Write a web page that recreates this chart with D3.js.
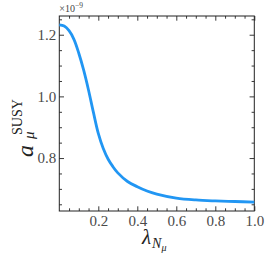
<!DOCTYPE html>
<html>
<head>
<meta charset="utf-8">
<script src="https://cdn.jsdelivr.net/npm/d3@7"></script>
<style>
  body { margin: 0; background: #fff; }
  svg { display: block; }
</style>
</head>
<body>
<script>
// Data
const lambdaVals = [0, 0.025, 0.05, 0.075, 0.1, 0.125, 0.15, 0.175, 0.2, 0.225, 0.25, 0.275, 0.3, 0.35, 0.4, 0.45, 0.5, 0.6, 0.7, 0.8, 0.9, 1.0];
const aMuVals = [1.232, 1.228, 1.213, 1.185, 1.14, 1.085, 1.02, 0.948, 0.880, 0.832, 0.797, 0.772, 0.752, 0.724, 0.707, 0.693, 0.683, 0.670, 0.664, 0.661, 0.659, 0.657];
const xMajorTicks = [0.2, 0.4, 0.6, 0.8, 1.0];
const yMajorTicks = [0.8, 1.0, 1.2];

const canvasWidth = 271;
const canvasHeight = 271;
const margins = { top: 16, right: 16.7, bottom: 60, left: 59.3 };
const plotWidth = canvasWidth - margins.left - margins.right;
const plotHeight = canvasHeight - margins.top - margins.bottom;

const serif = '"Liberation Serif", "DejaVu Serif", serif';

const svg = d3.select('body').append('svg')
    .attr('width', canvasWidth)
    .attr('height', canvasHeight);

const g = svg.append('g')
    .attr('transform', `translate(${margins.left},${margins.top})`);

const data = lambdaVals.map((x, i) => ({ x: x, y: aMuVals[i] }));

// matplotlib style 5% margins on y
const yMin = d3.min(aMuVals), yMax = d3.max(aMuVals);
const pad = (yMax - yMin) * 0.05;

const xScale = d3.scaleLinear().domain([0, 1]).range([0, plotWidth]);
const yScale = d3.scaleLinear().domain([yMin - pad, yMax + pad]).range([plotHeight, 0]);

const xMinor = d3.range(0.05, 1.0, 0.05).filter(v => Math.abs(v * 5 - Math.round(v * 5)) > 1e-6);
const yMinor = d3.range(0.65, 1.26, 0.05).filter(v => Math.abs(v * 5 - Math.round(v * 5)) > 1e-6);

const axisColor = '#222';
const fmt = d3.format('.1f');

function styleAxis(sel) {
    sel.attr('font-family', serif);
    sel.select('.domain').remove();
    sel.selectAll('line').attr('stroke', axisColor).attr('stroke-width', 0.9);
    sel.selectAll('text').attr('fill', '#4a4a4a').attr('font-family', serif).attr('font-size', 15);
}

// bottom
g.append('g').attr('transform', `translate(0,${plotHeight})`)
    .call(d3.axisBottom(xScale).tickValues(xMajorTicks).tickFormat(fmt).tickSize(-4.7).tickPadding(4))
    .call(styleAxis);
g.append('g').attr('transform', `translate(0,${plotHeight})`)
    .call(d3.axisBottom(xScale).tickValues(xMinor).tickFormat('').tickSize(-2.7))
    .call(styleAxis);
// top
g.append('g')
    .call(d3.axisTop(xScale).tickValues(xMajorTicks).tickFormat('').tickSize(-4.7))
    .call(styleAxis);
g.append('g')
    .call(d3.axisTop(xScale).tickValues(xMinor).tickFormat('').tickSize(-2.7))
    .call(styleAxis);
// left
g.append('g')
    .call(d3.axisLeft(yScale).tickValues(yMajorTicks).tickFormat(fmt).tickSize(-4.7).tickPadding(3))
    .call(styleAxis);
g.append('g')
    .call(d3.axisLeft(yScale).tickValues(yMinor).tickFormat('').tickSize(-2.7))
    .call(styleAxis);
// right
g.append('g').attr('transform', `translate(${plotWidth},0)`)
    .call(d3.axisRight(yScale).tickValues(yMajorTicks).tickFormat('').tickSize(-4.7))
    .call(styleAxis);
g.append('g').attr('transform', `translate(${plotWidth},0)`)
    .call(d3.axisRight(yScale).tickValues(yMinor).tickFormat('').tickSize(-2.7))
    .call(styleAxis);

// frame
g.append('rect')
    .attr('width', plotWidth).attr('height', plotHeight)
    .attr('fill', 'none').attr('stroke', axisColor).attr('stroke-width', 1);

// curve
const line = d3.line()
    .x(d => xScale(d.x))
    .y(d => yScale(d.y))
    .curve(d3.curveCatmullRom);

g.append('path')
    .datum(data)
    .attr('fill', 'none')
    .attr('stroke', '#2196f3')
    .attr('stroke-width', 2.8)
    .attr('d', line);

// offset text
const off = svg.append('text')
    .attr('x', margins.left)
    .attr('y', margins.top - 4)
    .attr('font-family', serif)
    .attr('font-size', 10)
    .attr('fill', '#444');
off.append('tspan').text('×10');
off.append('tspan').attr('dy', -4).attr('font-size', 7.5).text('−9');

// x label
const xl = svg.append('text')
    .attr('x', 142)
    .attr('y', 244)
    .attr('font-family', serif)
    .attr('fill', '#222');
xl.append('tspan').attr('font-size', 21).attr('font-style', 'italic').text('λ');
xl.append('tspan').attr('font-size', 14).attr('font-style', 'italic').attr('dx', 1).attr('dy', 4).text('N');
xl.append('tspan').attr('font-size', 10).attr('font-style', 'italic').attr('dy', 3).text('μ');

// y label
const yl = svg.append('g')
    .attr('transform', 'translate(33,157) rotate(-90)')
    .attr('font-family', serif)
    .attr('fill', '#222');
yl.append('text').attr('font-size', 24).attr('font-style', 'italic').text('a');
yl.append('text').attr('x', 22).attr('y', -11.5).attr('font-size', 14).text('SUSY');
yl.append('text').attr('x', 18).attr('y', 1).attr('font-size', 15).attr('font-style', 'italic').text('μ');
</script>
</body>
</html>
